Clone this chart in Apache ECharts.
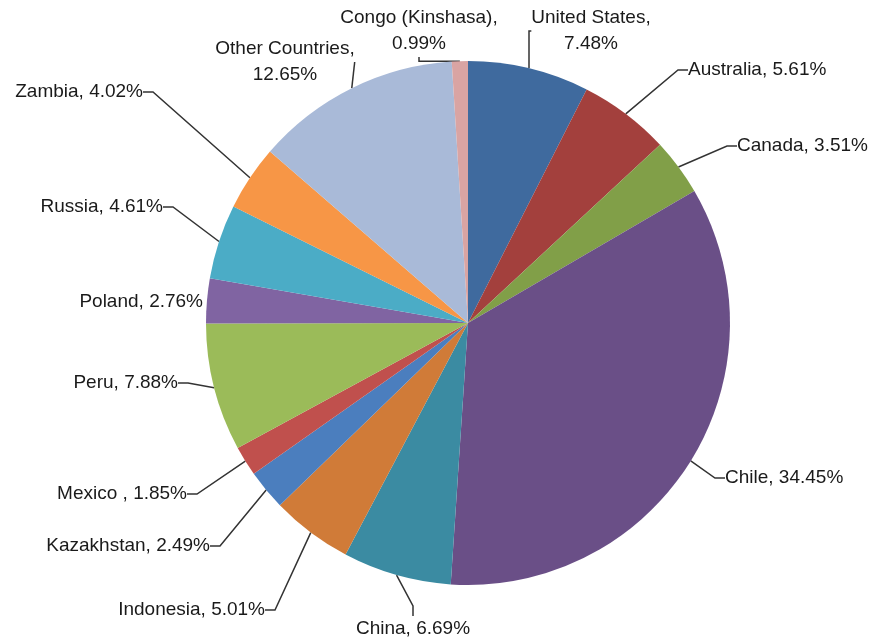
<!DOCTYPE html>
<html>
<head>
<meta charset="utf-8">
<script src="https://cdn.jsdelivr.net/npm/echarts@6/dist/echarts.min.js"></script>
<style>
  html, body { margin: 0; padding: 0; background: #fff; }
  #chart { width: 873px; height: 644px; }
</style>
</head>
<body>
<div id="chart"></div>
<script>
// share of world copper production (%), clockwise from 12 o'clock
var countries = ['United States', 'Australia', 'Canada', 'Chile', 'China', 'Indonesia',
  'Kazakhstan', 'Mexico ', 'Peru', 'Poland', 'Russia', 'Zambia', 'Other Countries', 'Congo (Kinshasa)'];
var shares = [7.48, 5.61, 3.51, 34.45, 6.69, 5.01, 2.49, 1.85, 7.88, 2.76, 4.61, 4.02, 12.65, 0.99];
var colors = ['#3F6A9E', '#A3403D', '#819F48', '#6A4F87', '#3B8BA2', '#D07B38', '#4B7EBE',
  '#C0504D', '#9BBB59', '#8064A2', '#4BACC6', '#F79646', '#A9BAD8', '#D9A4A3'];
// two-line labels
var wrapped = { 'United States': 1, 'Other Countries': 1, 'Congo (Kinshasa)': 1 };
// Poland's label sits right against its slice, no leader line
var noLine = { 'Poland': 1 };

// where each label sits (x, y, align), Excel placed them by hand
var labelSpots = [
  [591, 31, 'center'], [688, 70, 'left'], [737, 146, 'left'], [725, 478, 'left'],
  [413, 629, 'center'], [265, 610, 'right'], [210, 546, 'right'], [187, 494, 'right'],
  [178, 383, 'right'], [203, 302, 'right'], [163, 207, 'right'], [143, 92, 'right'],
  [285, 62, 'center'], [419, 31, 'center']
];

var chart = echarts.init(document.getElementById('chart'));

var pieData = countries.map(function (name, i) {
  var item = { name: name, value: shares[i], itemStyle: { color: colors[i] } };
  if (noLine[name]) item.labelLine = { show: false };
  return item;
});

chart.setOption({
  animation: false,
  series: [{
    type: 'pie',
    center: [468, 323],
    radius: 262,
    startAngle: 90,
    clockwise: true,
    data: pieData,
    itemStyle: { borderWidth: 0 },
    label: {
      show: true,
      color: '#1a1a1a',
      fontFamily: 'Liberation Sans',
      fontSize: 19,
      lineHeight: 26,
      formatter: function (p) {
        var sep = wrapped[p.name] ? ',\n' : ', ';
        return p.name + sep + p.value.toFixed(2) + '%';
      }
    },
    labelLine: {
      show: true,
      length: 20,
      length2: 10,
      lineStyle: { color: '#333', width: 1.5 }
    },
    labelLayout: function (params) {
      var s = labelSpots[params.dataIndex];
      return { x: s[0], y: s[1], align: s[2], verticalAlign: 'middle', hideOverlap: false };
    }
  }]
});
</script>
</body>
</html>
